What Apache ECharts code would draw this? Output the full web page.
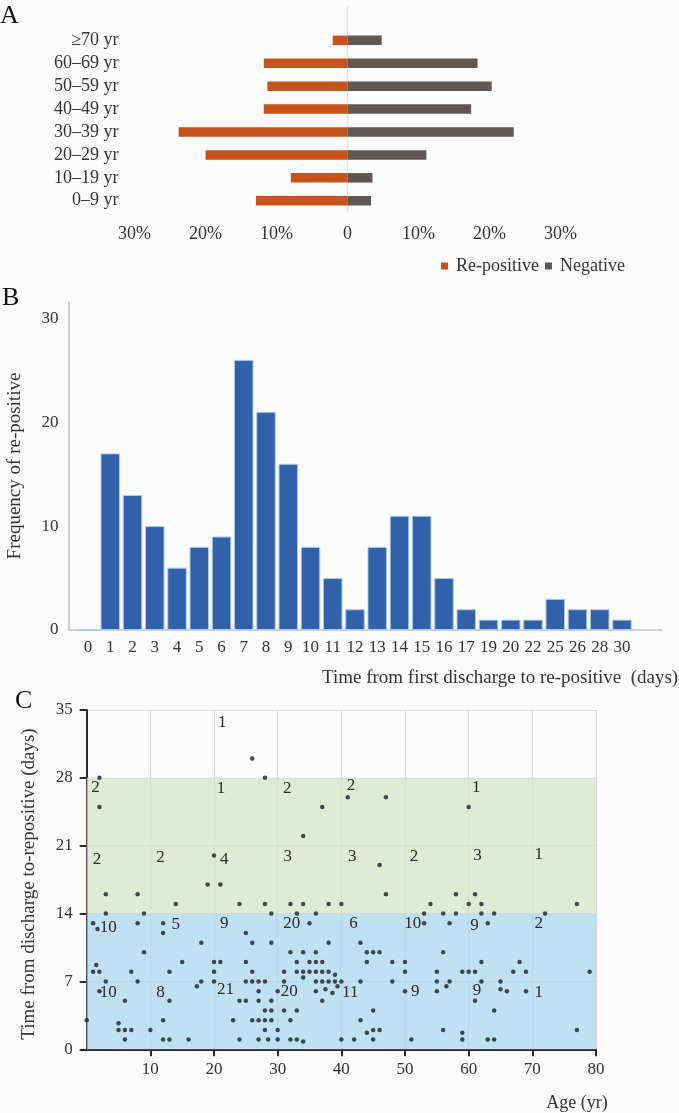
<!DOCTYPE html>
<html><head><meta charset="utf-8">
<script src="https://cdn.jsdelivr.net/npm/echarts@6/dist/echarts.min.js"></script>
<style>html,body{margin:0;padding:0;background:#fcfcfc;}#c{width:679px;height:1113px;}</style>
</head><body><div id="c"></div>
<script>
// ---- Panel A data (bottom to top) ----
const ageGroups = ['0–9 yr','10–19 yr','20–29 yr','30–39 yr','40–49 yr','50–59 yr','60–69 yr','≥70 yr'];
const rePositivePct = [12.9, 8.0, 20.0, 23.8, 11.8, 11.3, 11.8, 2.1];
const negativePct   = [3.3, 3.5, 11.1, 23.4, 17.4, 20.3, 18.3, 4.8];

// ---- Panel B data ----
const dayCategories = ['0','1','2','3','4','5','6','7','8','9','10','11','12','13','14','15','16','17','19','20','22','25','26','28','30'];
const dayFrequency  = [0,17,13,10,6,8,9,26,21,16,8,5,2,8,11,11,5,2,1,1,1,3,2,2,1];

// ---- Panel C data: [age (yr), days to re-positive] ----
const ageDayPoints = [
 [0,3],[1,13],[1.7,12.4],[1,8],[1.5,8.7],[2,8],[2,6],[2,25],[2,28],[3,16],[3,14],[3,7],[5,2.7],[5,2],[6,5],[6,2],[6,1],[7,8],[7,2],[8,16],[8,13],[8,7],[9,14],[9,10],
 [10,2],[12,13],[12,12],[12,3],[12,1],[13,8],[13,5],[13,1],[14,15],[15,9],[16,1],[17.3,6.5],[18,11],[18,7],[19,17],
 [20,20],[20,9],[20,8],[20,7],[21,17],[21,9],[23,3],[24,15],[24,5],[24,1],[25,12],[25,9],[25,7],[25,5],[26,30],[26,11],[26,8],[26,7],[26,3],[27,7],[27,6],[27,5],[27,3],[27,1],[28,28],[28,15],[28,7],[28,4],[28,3],[28,2],[28.5,1],[29,14],[29,11],[29,5],[29,4],[29,3],
 [30,6],[30,2],[30,1],[31,8],[31,7],[31,4],[32,15],[32,10],[32,3],[32,1],[33,14],[33,9],[33,8],[33,4],[33,1],[34,22],[34,15],[34,10],[34,8],[34,7.4],[34,0.8],[35,13],[35,9],[35,8],[36,14],[36,10],[36,9],[36,8],[36,7],[36,6],[37,25],[37,9],[37,8],[37,7],[37,5],[37.5,6.2],[38,15],[38,11],[38,8],[38,7],[38.6,5.8],[39,7.7],[39,7],[39.4,6.5],
 [40,15],[40,7],[40,1],[41,26],[42,1],[43,11],[43,7],[43,3],[44,10],[44,9],[44,1.7],[45,10],[45,4],[45,2],[45,1],[46,19],[46,10],[46,2],[47,26],[47,16],[48,9],[48,7],
 [50,9],[50,8],[50,6],[51,1],[53,14],[53,13],[54,15],[55,8],[55,7],[55,6],[56,14],[56,10],[56,2],[56.5,6.5],[57,13],[57,7],[58,16],[58,14],[59,8],[59,1.7],[59,1],
 [60,25],[60,15],[60,8],[61,16],[61,8],[61,5],[62,15],[62,14],[62,9],[62,7],[63,13],[63,1],[64,14],[64,4],[64,1],[65,7],[65,6.2],[66,6],[67,8],[68,9],[69,8],[69,6],
 [72,14],[77,15],[77,2],[79,8]
];
// cell counts: [label age, label day, count]
const cellCounts = [
 [21.3,33.7,1],
 [1.4,27.0,2],[21.1,26.9,1],[31.5,26.9,2],[41.5,27.2,2],[61.2,27.0,1],
 [1.6,19.6,2],[11.6,19.8,2],[21.6,19.6,4],[31.6,19.9,3],[41.7,19.9,3],[51.4,19.9,2],[61.4,20.0,3],[71.0,20.1,1],
 [3.4,12.6,10],[14.0,12.9,5],[21.6,13.0,9],[32.2,13.0,20],[41.9,13.0,6],[51.2,13.0,10],[60.9,12.8,9],[71.0,13.0,2],
 [3.4,5.9,10],[11.6,5.9,8],[21.8,6.2,21],[31.8,6.0,20],[41.4,5.9,11],[51.6,6.0,9],[61.3,6.1,9],[71.0,5.9,1]
];
const dayBands = [[0,14,'rgba(172,216,242,0.75)'],[14,28,'rgba(214,231,200,0.75)']];

const FONT = '"Liberation Serif", "Times New Roman", serif';
const TXT = '#333';
const chart = echarts.init(document.getElementById('c'), null, {renderer:'canvas'});

const lbl = (size, extra) => Object.assign({fontFamily:FONT, fontSize:size, color:TXT}, extra||{});

const option = {
  backgroundColor:'#fcfcfc',
  animation:false,
  textStyle:{fontFamily:FONT},
  legend:{
    data:['Re-positive','Negative'], left:436, top:252, icon:'rect', itemWidth:7, itemHeight:7, itemGap:6,
    textStyle:lbl(18,{padding:[0,0,0,3]}), selectedMode:false
  },
  grid:[
    {left:134.6, right:118.4, top:28.9, bottom:900.8, outerBoundsMode:'none'},
    {left:68.4, right:17, top:301.7, bottom:483, outerBoundsMode:'none'},
    {left:76.9, right:45.9, top:301.7, bottom:483, outerBoundsMode:'none'},
    {left:86.7, right:83, top:710, bottom:63.7, outerBoundsMode:'none'}
  ],
  xAxis:[
    {gridIndex:0, type:'value', min:-30, max:30, interval:10,
     axisLine:{show:false}, axisTick:{show:false}, splitLine:{show:false},
     axisLabel:lbl(18,{margin:13, formatter:v => v===0 ? '0' : Math.abs(v)+'%'})},
    {gridIndex:1, type:'value', min:0, max:1,
     axisLine:{show:true, onZero:false, lineStyle:{color:'#c2c2c2', width:1.5}},
     axisTick:{show:false}, axisLabel:{show:false}, splitLine:{show:false}},
    {gridIndex:2, type:'category', data:dayCategories,
     axisLine:{show:false}, axisTick:{show:false}, splitLine:{show:false},
     axisLabel:lbl(17,{interval:0, margin:9})},
    {gridIndex:3, type:'value', min:0, max:80, interval:10,
     axisLine:{show:true, onZero:false, lineStyle:{color:'#2a2a2a', width:2}},
     axisTick:{show:true, length:7, lineStyle:{color:'#2a2a2a', width:2}},
     splitLine:{show:true, lineStyle:{color:'#d8d8d8', width:1}},
     axisLabel:lbl(17,{margin:12, showMinLabel:false})}
  ],
  yAxis:[
    {gridIndex:0, type:'category', data:ageGroups,
     axisLine:{show:false}, axisTick:{show:false}, splitLine:{show:false},
     axisLabel:lbl(18,{margin:16, interval:0})},
    {gridIndex:1, type:'value', min:0, max:31.6, interval:10,
     axisLine:{show:true, onZero:false, lineStyle:{color:'#c2c2c2', width:1.5}},
     axisTick:{show:false}, splitLine:{show:false},
     axisLabel:lbl(17,{margin:10, showMaxLabel:false})},
    {gridIndex:2, type:'value', min:0, max:31.6, show:false},
    {gridIndex:3, type:'value', min:0, max:35, interval:7,
     axisLine:{show:true, onZero:false, lineStyle:{color:'#2a2a2a', width:2}},
     axisTick:{show:true, length:7, lineStyle:{color:'#2a2a2a', width:2}},
     splitLine:{show:true, lineStyle:{color:'#d8d8d8', width:1}},
     axisLabel:lbl(17,{margin:14})}
  ],
  series:[
    {name:'Re-positive', type:'bar', xAxisIndex:0, yAxisIndex:0, stack:'pyr', barWidth:9.5,
     itemStyle:{color:'#c5531b'}, data:rePositivePct.map(v => -v)},
    {name:'Negative', type:'bar', xAxisIndex:0, yAxisIndex:0, stack:'pyr', barWidth:9.5,
     itemStyle:{color:'#5e5855'}, data:negativePct},
    {name:'Frequency', type:'bar', xAxisIndex:2, yAxisIndex:2, barWidth:19.5,
     itemStyle:{color:'#3161a9', borderColor:'#a9cbea', borderWidth:1}, data:dayFrequency},
    {name:'Patients', type:'scatter', xAxisIndex:3, yAxisIndex:3, symbolSize:4.5,
     itemStyle:{color:'#17202a'}, data:ageDayPoints, z:3,
     markArea:{silent:true, z:1, data:dayBands.map(b => [{yAxis:b[0], itemStyle:{color:b[2]}}, {yAxis:b[1]}])}},
    {name:'Counts', type:'scatter', xAxisIndex:3, yAxisIndex:3, symbolSize:0.1, z:4,
     itemStyle:{color:TXT}, data:cellCounts,
     label:{show:true, position:'inside', formatter:p => String(p.value[2]), fontFamily:FONT, fontSize:17,
            color:'#2a2a2a', opacity:1, textBorderWidth:0}}
  ],
  graphic:[
    {id:'zeroLine', type:'line', z:-1, shape:{x1:0, y1:0, x2:0, y2:0}, style:{stroke:'#e4e4e4', lineWidth:1.5}},
    {id:'tA', type:'text', left:0, top:3, style:{text:'A', fontFamily:FONT, fontSize:26, fill:'#111'}},
    {id:'tB', type:'text', left:2, top:285, style:{text:'B', fontFamily:FONT, fontSize:26, fill:'#111'}},
    {id:'tC', type:'text', left:15, top:688, style:{text:'C', fontFamily:FONT, fontSize:26, fill:'#111'}},
    {id:'yB', type:'text', x:15, y:466, rotation:Math.PI/2, style:{text:'Frequency of re-positive', fontFamily:FONT, fontSize:19, fill:TXT, align:'center', verticalAlign:'middle'}},
    {id:'xB', type:'text', x:322, y:678, style:{text:'Time from first discharge to re-positive  (days)', fontFamily:FONT, fontSize:19, fill:TXT, align:'left', verticalAlign:'middle'}},
    {id:'yC', type:'text', x:29, y:884, rotation:Math.PI/2, style:{text:'Time from discharge to-repositive (days)', fontFamily:FONT, fontSize:19, fill:TXT, align:'center', verticalAlign:'middle'}},
    {id:'xC', type:'text', x:577, y:1103, style:{text:'Age (yr)', fontFamily:FONT, fontSize:18, fill:TXT, align:'center', verticalAlign:'middle'}}
  ]
};
chart.setOption(option);
// zero reference line of panel A, at x = 0 on its value axis
const x0 = chart.convertToPixel({xAxisIndex:0}, 0);
const yBottom = chart.convertToPixel({yAxisIndex:0}, ageGroups[0]) + 11.5;
chart.setOption({graphic:[{id:'zeroLine', shape:{x1:x0, y1:6, x2:x0, y2:yBottom}}]});
</script></body></html>
